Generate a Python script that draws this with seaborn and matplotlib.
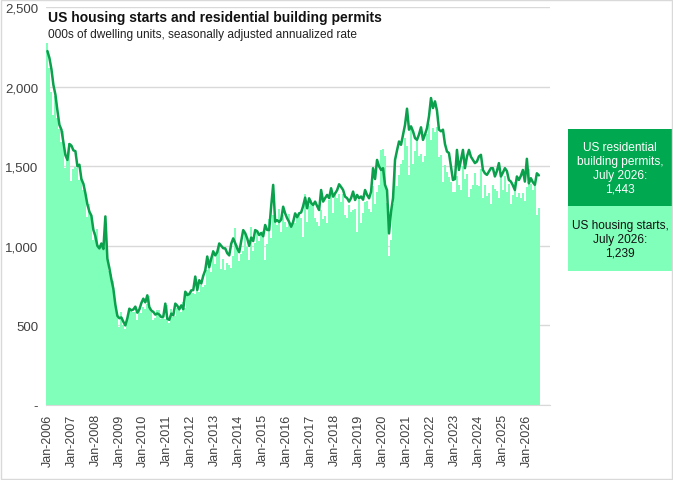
import numpy as np
import pandas as pd
import seaborn as sns
import matplotlib
matplotlib.use('Agg')
import matplotlib.pyplot as plt
from matplotlib.patches import Rectangle

# housing starts, 000s SAAR, Jan-2006 .. Jul-2026
starts = [
    2273, 2119, 1969, 1821, 1942, 1802, 1737, 1650, 1720, 1491, 1570, 1649,  # 2006
    1409, 1480, 1495, 1490, 1415, 1448, 1354, 1330, 1183, 1264, 1197, 1037,  # 2007
    1084, 1103, 1005, 1013, 973, 1046, 965, 844, 820, 777, 652, 560,  # 2008
    490, 582, 505, 478, 540, 585, 594, 586, 585, 534, 588, 581,  # 2009
    614, 604, 636, 687, 583, 536, 546, 599, 594, 543, 545, 539,  # 2010
    630, 517, 600, 554, 561, 608, 623, 585, 650, 610, 711, 694,  # 2011
    723, 704, 695, 753, 708, 757, 740, 754, 847, 915, 833, 976,  # 2012
    888, 962, 1010, 856, 918, 848, 892, 880, 861, 936, 1112, 1003,  # 2013
    902, 949, 968, 1074, 995, 913, 1119, 968, 1021, 1089, 1032, 1074,  # 2014
    1092, 908, 1009, 1170, 1052, 1191, 1176, 1133, 1229, 1085, 1196, 1153,  # 2015
    1117, 1201, 1123, 1164, 1142, 1190, 1213, 1174, 1055, 1328, 1151, 1249,  # 2016
    1290, 1262, 1172, 1149, 1125, 1224, 1169, 1186, 1143, 1287, 1334, 1204,  # 2017
    1339, 1302, 1324, 1277, 1329, 1192, 1177, 1256, 1211, 1227, 1229, 1090,  # 2018
    1291, 1144, 1207, 1276, 1282, 1232, 1212, 1377, 1265, 1336, 1382, 1603,  # 2019
    1609, 1564, 1269, 937, 1038, 1265, 1491, 1376, 1448, 1515, 1542, 1680,  # 2020
    1625, 1447, 1725, 1514, 1594, 1657, 1562, 1580, 1530, 1563, 1703, 1768,  # 2021
    1666, 1740, 1716, 1745, 1560, 1571, 1400, 1505, 1463, 1432, 1401, 1340,  # 2022
    1340, 1440, 1380, 1350, 1500, 1420, 1450, 1310, 1360, 1380, 1460, 1380,  # 2023
    1375, 1480, 1300, 1380, 1315, 1330, 1260, 1380, 1355, 1345, 1300, 1450,  # 2024
    1350, 1440, 1340, 1390, 1265, 1320, 1400, 1305, 1330, 1300, 1330, 1280,  # 2025
    1370, 1480, 1390, 1350, 1373, 1194, 1239,  # 2026
]

# residential building permits, 000s SAAR
permits = [
    2224, 2180, 2110, 2010, 1950, 1850, 1760, 1730, 1650, 1570, 1540, 1640,  # 2006
    1630, 1600, 1595, 1500, 1510, 1420, 1390, 1330, 1260, 1215, 1190, 1100,  # 2007
    1060, 1000, 984, 1015, 980, 1185, 920, 860, 790, 730, 630, 560,  # 2008
    545, 550, 523, 500, 545, 605, 595, 600, 618, 580, 600, 640,  # 2009
    668, 645, 689, 615, 593, 585, 568, 575, 568, 552, 555, 637,  # 2010
    542, 535, 574, 563, 637, 624, 601, 626, 602, 712, 691, 697,  # 2011
    720, 722, 807, 723, 784, 763, 812, 847, 933, 866, 920, 965,  # 2012
    940, 960, 1015, 1000, 985, 984, 954, 940, 1013, 1047, 1017, 984,  # 2013
    960, 1030, 1099, 1080, 1047, 1000, 1052, 1030, 1099, 1092, 1068, 1081,  # 2014
    1060, 1131, 1100, 1099, 1250, 1383, 1152, 1161, 1150, 1165, 1246, 1204,  # 2015
    1173, 1150, 1120, 1150, 1204, 1180, 1204, 1210, 1250, 1303, 1236, 1299,  # 2016
    1270, 1257, 1278, 1250, 1225, 1351, 1278, 1300, 1320, 1300, 1362, 1309,  # 2017
    1330, 1350, 1387, 1370, 1351, 1309, 1300, 1278, 1300, 1341, 1288, 1320,  # 2018
    1299, 1310, 1290, 1351, 1320, 1299, 1340, 1488, 1420, 1540, 1500, 1477,  # 2019
    1488, 1383, 1350, 1078, 1215, 1300, 1540, 1600, 1656, 1635, 1698, 1760,  # 2020
    1862, 1730, 1751, 1720, 1677, 1666, 1700, 1745, 1666, 1700, 1740, 1814,  # 2021
    1929, 1866, 1908, 1850, 1730, 1720, 1730, 1640, 1593, 1583, 1500, 1414,  # 2022
    1420, 1603, 1477, 1540, 1603, 1488, 1560, 1603, 1560, 1540, 1520, 1530,  # 2023
    1562, 1572, 1477, 1456, 1446, 1467, 1488, 1488, 1436, 1470, 1520, 1436,  # 2024
    1460, 1488, 1470, 1414, 1404, 1380, 1351, 1436, 1414, 1440, 1477, 1404,  # 2025
    1547, 1393, 1425, 1400, 1383, 1456, 1443,  # 2026
]

# category axis runs to Dec-2026
months = list(pd.date_range('2006-01-01', periods=252, freq='MS').strftime('%b-%Y'))
yticks = [0, 500, 1000, 1500, 2000, 2500]
ytick_labels = ['-', '500', '1,000', '1,500', '2,000', '2,500']

bar_color = '#80FFBA'
line_color = '#0AA04C'
box_dark = '#00A84F'

df = pd.DataFrame({'month': months[:len(starts)], 'starts': starts, 'permits': permits})
df['pos'] = np.arange(len(df))

sns.set_style('white')
plt.rcParams['font.family'] = ['Liberation Sans', 'DejaVu Sans']

fig = plt.figure(figsize=(6.73, 4.81), dpi=100)
ax = fig.add_axes([0.069, 0.156, 0.748, 0.827])

sns.barplot(data=df, x='month', y='starts', order=months, color=bar_color,
            saturation=1, width=1.0, linewidth=0, ax=ax)
sns.lineplot(x=df['pos'], y=df['permits'], color=line_color, linewidth=1.8, ax=ax)

ax.set_xlim(-0.5, 251.5)
ax.set_ylim(0, 2500)
ax.set_yticks(yticks)
ax.set_yticklabels(ytick_labels, fontsize=9.5, color='#404040')
ax.set_xticks(range(0, 252, 12))
ax.set_xticklabels([months[i] for i in range(0, 252, 12)], rotation=90,
                   fontsize=9, color='#404040')
ax.tick_params(axis='both', length=0, pad=6)
ax.set_xlabel('')
ax.set_ylabel('')
ax.yaxis.grid(True, color='#D9D9D9', linewidth=1)
ax.set_axisbelow(True)
for s in ['top', 'left', 'right']:
    ax.spines[s].set_visible(False)
ax.spines['bottom'].set_color('#D9D9D9')

fig.text(0.071, 0.962, 'US housing starts and residential building permits',
         fontsize=10, fontweight='bold', color='#111111', va='center', ha='left')
fig.text(0.071, 0.927, '000s of dwelling units, seasonally adjusted annualized rate',
         fontsize=8.6, color='#222222', va='center', ha='left')

# end-value boxes on the right
fig.patches.append(Rectangle((568 / 673, 1 - 207 / 481), 104 / 673, 77 / 481,
                             transform=fig.transFigure, facecolor=box_dark, edgecolor='none'))
fig.patches.append(Rectangle((568 / 673, 1 - 272 / 481), 104 / 673, 65 / 481,
                             transform=fig.transFigure, facecolor=bar_color, edgecolor='none'))
fig.text(620 / 673, 1 - 169 / 481, 'US residential\nbuilding permits,\nJuly 2026:\n1,443',
         ha='center', va='center', color='white', fontsize=8.6, linespacing=1.2)
fig.text(620 / 673, 1 - 240 / 481, 'US housing starts,\nJuly 2026:\n1,239',
         ha='center', va='center', color='#111111', fontsize=8.6, linespacing=1.2)

# chart border
fig.patches.append(Rectangle((0.002, 0.002), 0.996, 0.996, transform=fig.transFigure,
                             facecolor='none', edgecolor='#D9D9D9', linewidth=1))

fig.savefig('out.png', dpi=100)
